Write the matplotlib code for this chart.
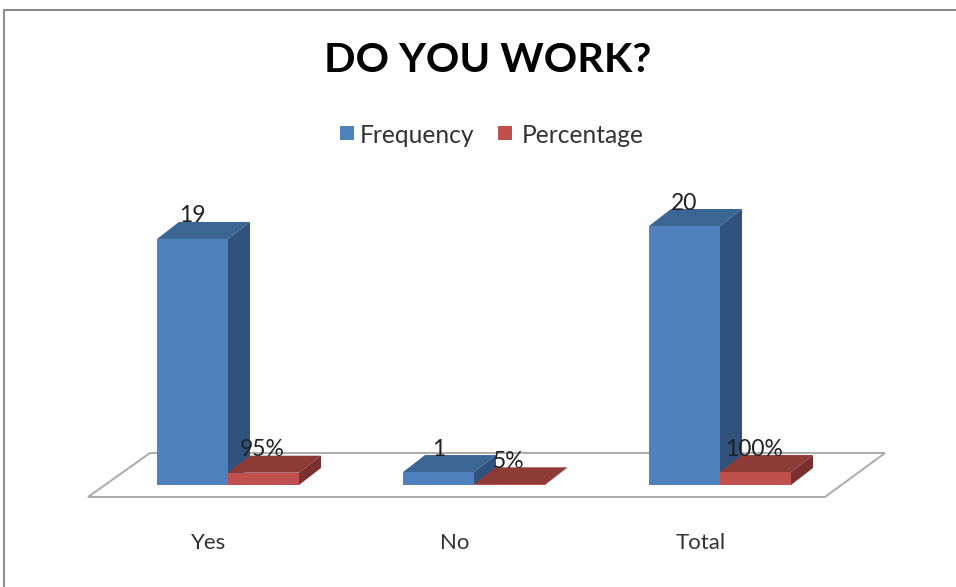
import matplotlib
matplotlib.use("Agg")
import matplotlib.pyplot as plt
from matplotlib.patches import Polygon, Rectangle
from matplotlib.lines import Line2D

categories = ["Yes", "No", "Total"]
frequency = [19, 1, 20]
percentage = [0.95, 0.05, 1.0]
freq_labels = ["19", "1", "20"]
pct_labels = ["95%", "5%", "100%"]

W, H = 956, 587
PX_X = 246.0    # pixels per category
PX_Y = 12.95    # pixels per value unit
BAR_W = 71 / PX_X
DX = 22 / PX_X  # 3d depth
DY = 17 / PX_Y

plt.rcParams["font.family"] = ["Lato", "DejaVu Sans"]
fig = plt.figure(figsize=(W / 100, H / 100), dpi=100)
ax = fig.add_axes([0, 0, 1, 1])
ax.set_xlim(-228 / PX_X, (W - 228) / PX_X)
ax.set_ylim(-(H - 485) / PX_Y, 485 / PX_Y)
ax.axis("off")


def bar3d(x, h, front, top, side):
    ax.add_patch(Polygon([(x, h), (x + BAR_W, h), (x + BAR_W + DX, h + DY), (x + DX, h + DY)],
                         facecolor=top, edgecolor="none", zorder=3))
    ax.add_patch(Polygon([(x + BAR_W, 0), (x + BAR_W + DX, DY), (x + BAR_W + DX, h + DY), (x + BAR_W, h)],
                         facecolor=side, edgecolor="none", zorder=3))
    ax.add_patch(Rectangle((x, 0), BAR_W, h, facecolor=front, edgecolor="none", zorder=4))


# floor
floor_l, floor_r = -140 / PX_X, 597 / PX_X
ax.add_patch(Polygon([(floor_l, -12 / PX_Y), (floor_r, -12 / PX_Y),
                      (floor_r + 60 / PX_X, 32 / PX_Y), (floor_l + 62 / PX_X, 32 / PX_Y)],
                     facecolor="white", edgecolor="#ababab", linewidth=1.4, zorder=1))

for i in range(len(categories)):
    bar3d(i - BAR_W, frequency[i], "#4f81bd", "#3b6593", "#30527c")
    bar3d(i, percentage[i], "#c0504d", "#8e3a37", "#7b302e")

    ax.annotate(freq_labels[i], (i - BAR_W / 2, frequency[i]), xytext=(0, 9), textcoords="offset points",
                ha="center", va="bottom", fontsize=16.5, color="#222222", zorder=5)
    ax.annotate(pct_labels[i], (i + BAR_W / 2, percentage[i]), xytext=(-1, 9), textcoords="offset points",
                ha="center", va="bottom", fontsize=16.5, color="#222222", zorder=5)
    ax.annotate(categories[i], (i, 0), xytext=(-14, -42), textcoords="offset points",
                ha="center", va="center", fontsize=16, color="#333333")

# title, legend
fig.text(488 / W, 1 - 61 / H, "DO YOU WORK?", ha="center", va="center",
         fontsize=29.8, fontweight="bold", color="black")
fig.patches.append(Rectangle((340 / W, 1 - 140 / H), 14 / W, 14 / H, transform=fig.transFigure,
                             facecolor="#4f81bd", edgecolor="none"))
fig.text(360 / W, 1 - 135 / H, "Frequency", ha="left", va="center", fontsize=17.7, color="#333333")
fig.patches.append(Rectangle((498 / W, 1 - 140 / H), 14 / W, 14 / H, transform=fig.transFigure,
                             facecolor="#c0504d", edgecolor="none"))
fig.text(522 / W, 1 - 135 / H, "Percentage", ha="left", va="center", fontsize=17.7, color="#333333")

# outer frame, only top and left show
fig.add_artist(Line2D([4 / W, 4 / W, 1], [0, 1 - 10 / H, 1 - 10 / H], color="#8c8c8c", linewidth=1.5))

fig.savefig("out.png", dpi=100, facecolor="white")
